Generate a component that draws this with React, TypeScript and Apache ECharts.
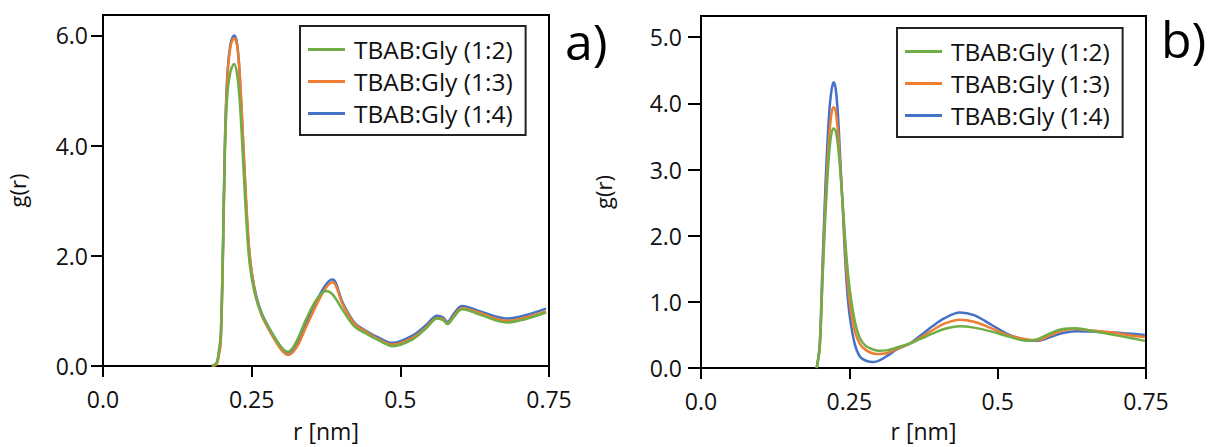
import React, { useEffect, useRef } from "react";
import * as echarts from "echarts";

const seriesNames = ["TBAB:Gly (1:2)", "TBAB:Gly (1:3)", "TBAB:Gly (1:4)"];
const seriesColors = ["#70ad47", "#ed7d31", "#4472c4"];
const xTickLabels = ["0.0", "0.25", "0.5", "0.75"];

// Panel a)
const rA = [0.183, 0.191, 0.195, 0.198, 0.202, 0.205, 0.209, 0.2145, 0.2205, 0.2255, 0.23, 0.2355, 0.241, 0.2467, 0.255, 0.266, 0.283, 0.3, 0.311, 0.325, 0.342, 0.36, 0.375, 0.386, 0.403, 0.4226, 0.442, 0.4645, 0.487, 0.52, 0.543, 0.562, 0.572, 0.579, 0.59, 0.604, 0.632, 0.66, 0.679, 0.71, 0.745];
const gA12 = [0, 0.06, 0.3, 0.55, 2.3, 3.9, 4.9, 5.35, 5.48, 5.3, 4.8, 3.75, 2.65, 1.85, 1.33, 0.96, 0.62, 0.34, 0.26, 0.44, 0.86, 1.22, 1.36, 1.3, 1.02, 0.72, 0.59, 0.46, 0.36, 0.48, 0.68, 0.86, 0.83, 0.76, 0.89, 1.03, 0.94, 0.83, 0.79, 0.85, 0.97];
const gA13 = [0, 0.03, 0.2, 0.42, 2.1, 3.95, 5.2, 5.8, 5.95, 5.82, 5.28, 4.15, 2.95, 2.02, 1.38, 0.94, 0.58, 0.29, 0.2, 0.33, 0.72, 1.13, 1.42, 1.52, 1.12, 0.77, 0.62, 0.48, 0.39, 0.51, 0.7, 0.87, 0.85, 0.77, 0.91, 1.05, 0.97, 0.86, 0.82, 0.88, 0.99];
const gA14 = [0, 0.05, 0.25, 0.49, 2.28, 4.07, 5.26, 5.85, 6.0, 5.85, 5.26, 4.07, 2.88, 1.99, 1.4, 0.98, 0.62, 0.33, 0.24, 0.4, 0.79, 1.2, 1.48, 1.57, 1.15, 0.79, 0.64, 0.51, 0.42, 0.55, 0.74, 0.91, 0.88, 0.8, 0.95, 1.09, 1.0, 0.9, 0.86, 0.92, 1.04];

// Panel b)
const rB = [0.195, 0.2, 0.204, 0.208, 0.212, 0.216, 0.22, 0.2236, 0.227, 0.231, 0.235, 0.2395, 0.2427, 0.247, 0.252, 0.2595, 0.268, 0.278, 0.29, 0.3, 0.315, 0.33, 0.352, 0.37, 0.39, 0.41, 0.436, 0.46, 0.49, 0.52, 0.55, 0.566, 0.59, 0.61, 0.632, 0.66, 0.69, 0.72, 0.748];
const gB12 = [0, 0.3, 1.15, 2.0, 2.7, 3.25, 3.55, 3.62, 3.58, 3.35, 2.95, 2.4, 1.98, 1.5, 1.1, 0.7, 0.45, 0.33, 0.28, 0.26, 0.27, 0.31, 0.37, 0.44, 0.52, 0.59, 0.63, 0.61, 0.55, 0.47, 0.41, 0.43, 0.53, 0.59, 0.6, 0.56, 0.51, 0.46, 0.41];
const gB13 = [0, 0.3, 1.2, 2.15, 2.9, 3.5, 3.85, 3.94, 3.88, 3.55, 3.0, 2.35, 1.85, 1.3, 0.9, 0.55, 0.36, 0.27, 0.22, 0.21, 0.23, 0.29, 0.37, 0.46, 0.57, 0.67, 0.73, 0.7, 0.6, 0.49, 0.43, 0.42, 0.5, 0.57, 0.59, 0.565, 0.54, 0.5, 0.47];
const gB14 = [0, 0.35, 1.35, 2.35, 3.2, 3.85, 4.2, 4.32, 4.22, 3.8, 3.1, 2.3, 1.69, 1.1, 0.7, 0.35, 0.17, 0.11, 0.09, 0.11, 0.19, 0.28, 0.37, 0.49, 0.63, 0.75, 0.84, 0.8, 0.65, 0.5, 0.42, 0.41, 0.47, 0.53, 0.555, 0.55, 0.54, 0.52, 0.5];

const FONT = "Open Sans";
const TXT = "#111";

const pairs = (r: number[], g: number[]) => r.map((x, i) => [x, g[i]]);

function makeSeries(idx: number, r: number[], gs: number[][]) {
  // draw order: blue, orange, green (green on top)
  const order = [2, 1, 0];
  return order.map((k) => ({
    type: "line",
    name: seriesNames[k],
    xAxisIndex: idx,
    yAxisIndex: idx,
    data: pairs(r, gs[k]),
    smooth: 0.35,
    symbol: "none",
    lineStyle: { color: seriesColors[k], width: 2.5 },
    itemStyle: { color: seriesColors[k] },
    z: 3 + (2 - k),
  }));
}

function xAxis(idx: number, nameGap: number) {
  return {
    type: "value",
    gridIndex: idx,
    min: 0,
    max: 0.75,
    interval: 0.25,
    name: "r [nm]",
    nameLocation: "middle",
    nameGap,
    nameTextStyle: { fontFamily: FONT, fontSize: 23, color: TXT },
    axisLine: { show: true, onZero: false, lineStyle: { color: "#000", width: 2 } },
    axisTick: { show: true, inside: false, length: 11, lineStyle: { color: "#000", width: 2 } },
    axisLabel: {
      margin: 21,
      fontFamily: FONT,
      fontSize: 23,
      color: TXT,
      formatter: (v: number) => xTickLabels[Math.round(v / 0.25)] ?? String(v),
    },
    splitLine: { show: false },
  };
}

function yAxis(idx: number, max: number, interval: number, tickLen: number, margin: number, nameGap: number) {
  return {
    type: "value",
    gridIndex: idx,
    min: 0,
    max,
    interval,
    name: "g(r)",
    nameLocation: "middle",
    nameGap,
    nameTextStyle: { fontFamily: FONT, fontSize: 22, color: TXT },
    axisLine: { show: true, lineStyle: { color: "#000", width: 2 } },
    axisTick: { show: true, inside: false, length: tickLen, lineStyle: { color: "#000", width: 2 } },
    axisLabel: {
      margin,
      fontFamily: FONT,
      fontSize: 23,
      color: TXT,
      formatter: (v: number) => v.toFixed(1),
    },
    splitLine: { show: false },
  };
}

function legend(left: number, top: number) {
  return {
    show: true,
    left,
    top,
    orient: "vertical",
    data: seriesNames.slice(),
    icon: "rect",
    itemWidth: 37,
    itemHeight: 3,
    itemGap: 7,
    padding: [11, 13, 9, 8],
    borderColor: "#222",
    borderWidth: 2,
    backgroundColor: "#fff",
    textStyle: { fontFamily: FONT, fontSize: 24.5, lineHeight: 25, color: TXT, padding: [0, 0, 0, 4] },
    selectedMode: false,
  };
}

export default function App() {
  const ref = useRef<HTMLDivElement>(null);
  useEffect(() => {
    document.body.style.margin = "0";
    if (!ref.current) return;
    const chart = echarts.init(ref.current, null, { renderer: "svg" });
    chart.setOption({
      animation: false,
      backgroundColor: "#fff",
      grid: [
        { left: 103, top: 15, width: 446, height: 356, show: true, borderColor: "#000", borderWidth: 2 },
        { left: 701, top: 16, width: 445, height: 357, show: true, borderColor: "#000", borderWidth: 2 },
      ],
      xAxis: [xAxis(0, 53), xAxis(1, 51)],
      yAxis: [yAxis(0, 6.37, 2, 12, 15, 75), yAxis(1, 5.32, 1, 13, 19, 87)],
      legend: [legend(300, 26), legend(897, 28)],
      series: [...makeSeries(0, rA, [gA12, gA13, gA14]), ...makeSeries(1, rB, [gB12, gB13, gB14])],
      graphic: [
        { type: "text", left: 565, top: 16, style: { text: "a)", fontFamily: FONT, fontSize: 50, fill: "#000" } },
        { type: "text", left: 1161, top: 14, style: { text: "b)", fontFamily: FONT, fontSize: 50, fill: "#000" } },
      ],
    });
    return () => chart.dispose();
  }, []);
  return <div ref={ref} style={{ width: 1208, height: 447 }} />;
}
